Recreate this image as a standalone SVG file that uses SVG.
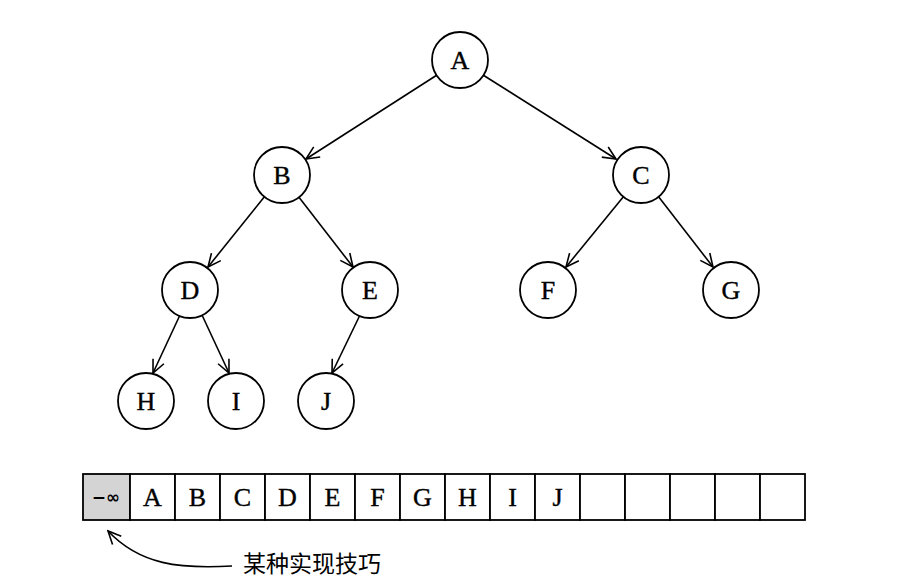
<svg xmlns="http://www.w3.org/2000/svg" width="912" height="581" viewBox="0 0 912 581">
<defs>
<marker id="arr" markerUnits="userSpaceOnUse" markerWidth="16" markerHeight="14" refX="14" refY="7" orient="auto">
<path d="M1,1 L14,7 L1,13" fill="none" stroke="#000" stroke-width="1.6"/>
</marker>
<style>
.n circle{fill:#fff;stroke:#000;stroke-width:1.8}
.t{font-family:"Liberation Serif","Times New Roman",serif;font-size:26px;text-anchor:middle;fill:#000;stroke:#000;stroke-width:0.4}
.e line,.e path{stroke:#000;stroke-width:1.6;fill:none;marker-end:url(#arr)}
.c{fill:#fff;stroke:#000;stroke-width:1.8}
</style>
</defs>
<rect width="912" height="581" fill="#fff"/>
<g class="e" id="connectors">
<line x1="437" y1="75" x2="306" y2="159"/>
<line x1="483" y1="75" x2="616" y2="159"/>
<line x1="265" y1="196" x2="208" y2="267"/>
<line x1="298" y1="196" x2="353" y2="267"/>
<line x1="624" y1="196" x2="566" y2="267"/>
<line x1="658" y1="196" x2="713" y2="267"/>
<line x1="180" y1="315" x2="153" y2="373"/>
<line x1="202" y1="315" x2="229" y2="373"/>
<line x1="360" y1="315" x2="332" y2="373"/>
<path d="M232 566 C180 569 140 565 108 531"/>
</g>
<g class="n" id="A"><circle cx="460" cy="60" r="28"/><text class="t" x="460" y="69">A</text></g>
<g class="n" id="B"><circle cx="282" cy="175" r="28"/><text class="t" x="282" y="184">B</text></g>
<g class="n" id="C"><circle cx="641" cy="175" r="28"/><text class="t" x="641" y="184">C</text></g>
<g class="n" id="D"><circle cx="190" cy="290" r="28"/><text class="t" x="190" y="299">D</text></g>
<g class="n" id="E"><circle cx="370" cy="290" r="28"/><text class="t" x="370" y="299">E</text></g>
<g class="n" id="F"><circle cx="548" cy="290" r="28"/><text class="t" x="548" y="299">F</text></g>
<g class="n" id="G"><circle cx="731" cy="290" r="28"/><text class="t" x="731" y="299">G</text></g>
<g class="n" id="H"><circle cx="146" cy="401" r="28"/><text class="t" x="146" y="410">H</text></g>
<g class="n" id="I"><circle cx="236" cy="401" r="28"/><text class="t" x="236" y="410">I</text></g>
<g class="n" id="J"><circle cx="326" cy="401" r="28"/><text class="t" x="326" y="410">J</text></g>
<g id="array">
<rect x="83" y="474" width="47" height="46" fill="#d4d4d4" stroke="#000" stroke-width="1.8"/>
<text x="106" y="503" font-family="'DejaVu Sans',sans-serif" font-size="17" text-anchor="middle" font-weight="bold">−∞</text>
<rect class="c" x="130" y="474" width="45" height="46"/>
<rect class="c" x="175" y="474" width="45" height="46"/>
<rect class="c" x="220" y="474" width="45" height="46"/>
<rect class="c" x="265" y="474" width="45" height="46"/>
<rect class="c" x="310" y="474" width="45" height="46"/>
<rect class="c" x="355" y="474" width="45" height="46"/>
<rect class="c" x="400" y="474" width="45" height="46"/>
<rect class="c" x="445" y="474" width="45" height="46"/>
<rect class="c" x="490" y="474" width="45" height="46"/>
<rect class="c" x="535" y="474" width="45" height="46"/>
<rect class="c" x="580" y="474" width="45" height="46"/>
<rect class="c" x="625" y="474" width="45" height="46"/>
<rect class="c" x="670" y="474" width="45" height="46"/>
<rect class="c" x="715" y="474" width="45" height="46"/>
<rect class="c" x="760" y="474" width="45" height="46"/>
<text class="t" x="152.5" y="506">A</text>
<text class="t" x="197.5" y="506">B</text>
<text class="t" x="242.5" y="506">C</text>
<text class="t" x="287.5" y="506">D</text>
<text class="t" x="332.5" y="506">E</text>
<text class="t" x="377.5" y="506">F</text>
<text class="t" x="422.5" y="506">G</text>
<text class="t" x="467.5" y="506">H</text>
<text class="t" x="512.5" y="506">I</text>
<text class="t" x="557.5" y="506">J</text>
</g>
<text x="243" y="572" font-family="'Noto Sans CJK SC',sans-serif" font-size="23" fill="#000">某种实现技巧</text>
</svg>
